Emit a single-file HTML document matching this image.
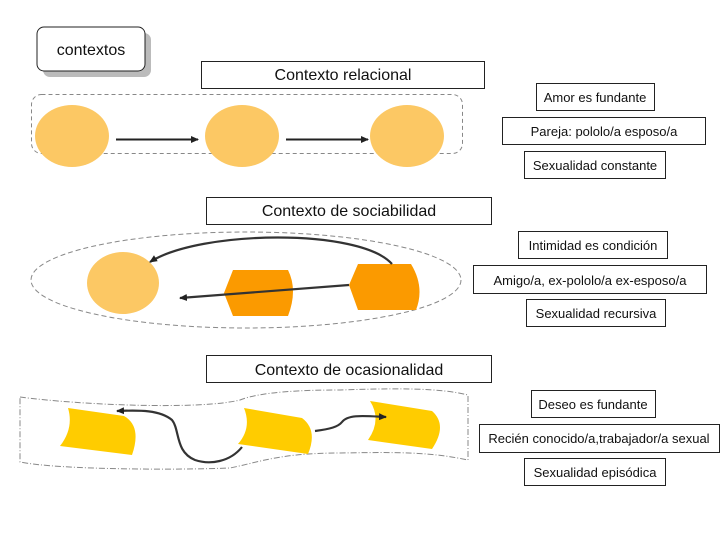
<!DOCTYPE html>
<html><head><meta charset="utf-8"><style>
html,body{margin:0;padding:0;background:#fff;width:720px;height:540px;overflow:hidden}
text{font-family:"Liberation Sans",sans-serif;fill:#111}
</style></head><body>
<svg width="720" height="540" viewBox="0 0 720 540" xmlns="http://www.w3.org/2000/svg">
<defs>
<marker id="ah" markerWidth="8" markerHeight="8" refX="7" refY="4" orient="auto" markerUnits="userSpaceOnUse">
<path d="M0,0.5 L8,4 L0,7.5 z" fill="#222"/></marker>
</defs>
<!-- contextos -->
<rect x="43" y="33" width="108" height="44" rx="7" fill="#bbb"/>
<rect x="37" y="27" width="108" height="44" rx="7" fill="#fff" stroke="#222"/>
<text x="91" y="55" font-size="16" text-anchor="middle">contextos</text>

<!-- section 1 -->
<rect x="201.5" y="61.5" width="283" height="27" fill="#fff" stroke="#222"/>
<text x="343" y="80" font-size="16" text-anchor="middle">Contexto relacional</text>
<rect x="31.5" y="94.5" width="431" height="59" rx="10" fill="none" stroke="#888" stroke-dasharray="4,3"/>
<ellipse cx="72" cy="136" rx="37" ry="31" fill="#fcc864"/>
<ellipse cx="242" cy="136" rx="37" ry="31" fill="#fcc864"/>
<ellipse cx="407" cy="136" rx="37" ry="31" fill="#fcc864"/>
<line x1="116" y1="139.5" x2="198" y2="139.5" stroke="#222" stroke-width="2" marker-end="url(#ah)"/>
<line x1="286" y1="139.5" x2="368" y2="139.5" stroke="#222" stroke-width="2" marker-end="url(#ah)"/>

<g font-size="13" text-anchor="middle">
<rect x="536.5" y="83.5" width="118" height="27" fill="#fff" stroke="#222"/>
<text x="595" y="102">Amor es fundante</text>
<rect x="502.5" y="117.5" width="203" height="27" fill="#fff" stroke="#222"/>
<text x="604" y="136">Pareja: pololo/a esposo/a</text>
<rect x="524.5" y="151.5" width="141" height="27" fill="#fff" stroke="#222"/>
<text x="595" y="170">Sexualidad constante</text>
</g>

<!-- section 2 -->
<rect x="206.5" y="197.5" width="285" height="27" fill="#fff" stroke="#222"/>
<text x="349" y="216" font-size="16" text-anchor="middle">Contexto de sociabilidad</text>
<ellipse cx="246" cy="280" rx="215" ry="48" fill="none" stroke="#888" stroke-dasharray="5,3"/>
<ellipse cx="123" cy="283" rx="36" ry="31" fill="#fcc864"/>
<path d="M233,270 L288,270 Q298,290 288,316 L233,316 L224,293 Z" fill="#fb9a00"/>
<path d="M358,264 L411,264 Q425,287 416,310 L358,310 L349,285 Z" fill="#fb9a00"/>
<path d="M392,264 C360,228 200,230 150,262" fill="none" stroke="#333" stroke-width="2.2" marker-end="url(#ah)"/>
<path d="M349,285 L180,298" fill="none" stroke="#333" stroke-width="2.2" marker-end="url(#ah)"/>

<g font-size="13" text-anchor="middle">
<rect x="518.5" y="231.5" width="149" height="27" fill="#fff" stroke="#222"/>
<text x="593" y="250">Intimidad es condición</text>
<rect x="473.5" y="265.5" width="233" height="28" fill="#fff" stroke="#222"/>
<text x="590" y="285">Amigo/a, ex-pololo/a ex-esposo/a</text>
<rect x="526.5" y="299.5" width="139" height="27" fill="#fff" stroke="#222"/>
<text x="596" y="318">Sexualidad recursiva</text>
</g>

<!-- section 3 -->
<rect x="206.5" y="355.5" width="285" height="27" fill="#fff" stroke="#222"/>
<text x="349" y="375" font-size="16" text-anchor="middle">Contexto de ocasionalidad</text>
<path d="M20,397 C80,405 200,410 240,400 C260,392 300,390 340,390 C400,388 440,388 468,395 L468,460 C430,452 400,452 340,453 C280,453 260,462 230,468 C180,470 60,470 20,462 Z" fill="none" stroke="#888" stroke-dasharray="6,2,1,2"/>
<path d="M68,408 L124,416 Q142,426 132,455 L60,446 Q74,428 68,408 Z" fill="#ffcc00"/>
<path d="M244,408 L302,418 Q318,430 308,454 L238,444 Q252,428 244,408 Z" fill="#ffcc00"/>
<path d="M370,401 L432,411 Q448,425 432,449 L368,440 Q382,420 370,401 Z" fill="#ffcc00"/>
<path d="M242,447 C230,462 210,465 195,460 C175,452 180,430 172,420 C160,410 140,410 117,411" fill="none" stroke="#333" stroke-width="2.2" marker-end="url(#ah)"/>
<path d="M315,431 C330,429 338,427 342,422 C348,414 365,416 386,417" fill="none" stroke="#333" stroke-width="2.2" marker-end="url(#ah)"/>

<g font-size="13" text-anchor="middle">
<rect x="531.5" y="390.5" width="124" height="27" fill="#fff" stroke="#222"/>
<text x="593" y="409">Deseo es fundante</text>
<rect x="479.5" y="424.5" width="240" height="28" fill="#fff" stroke="#222"/>
<text x="599" y="443">Recién conocido/a,trabajador/a sexual</text>
<rect x="524.5" y="458.5" width="141" height="27" fill="#fff" stroke="#222"/>
<text x="595" y="477">Sexualidad episódica</text>
</g>
</svg>
</body></html>
